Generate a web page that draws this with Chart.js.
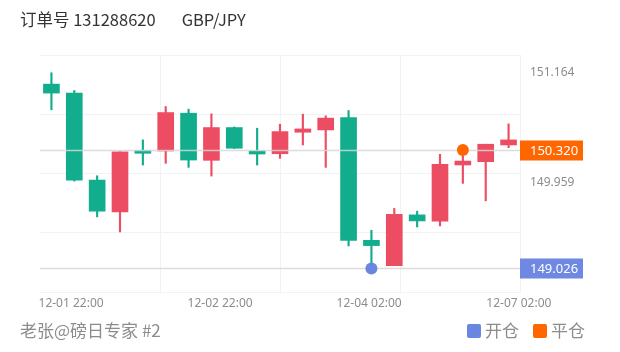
<!DOCTYPE html>
<html lang="zh">
<head>
<meta charset="UTF-8">
<title>GBP/JPY</title>
<script src="https://cdn.jsdelivr.net/npm/chart.js"></script>
<style>
    body { margin: 0; background: #fff; font-family: "Noto Sans CJK SC", "Noto Sans", sans-serif; }
    .wrap { position: relative; width: 620px; height: 352px; overflow: hidden; }
    canvas { position: absolute; left: 0; top: 0; }
    .title { position: absolute; left: 20px; top: 7px; font-size: 16.5px; color: #333; white-space: nowrap; }
    .title .pair { margin-left: 26px; }
    .footer { position: absolute; left: 20px; top: 317px; font-size: 17px; color: #8c8c8c; white-space: nowrap; }
    .legend { position: absolute; left: 467px; top: 317px; font-size: 17px; color: #8c8c8c; white-space: nowrap; }
    .legend span.sw { display: inline-block; width: 14px; height: 14px; border-radius: 2px; vertical-align: -1px; margin-right: 4px; }
    .legend .item2 { margin-left: 14px; }
</style>
</head>
<body>
<div class="wrap">
    <canvas id="chart" width="620" height="352"></canvas>
    <div class="title">订单号 131288620<span class="pair">GBP/JPY</span></div>
    <div class="footer">老张@磅日专家 #2</div>
    <div class="legend"><span class="sw" style="background:#6a86e0"></span>开仓<span class="item2"><span class="sw" style="background:#ff6600"></span>平仓</span></div>
</div>

<script>
    // candle data (red = up, green = down)
    const opens  = [151.040, 150.942, 149.991, 149.643, 150.312, 150.309, 150.722, 150.207, 150.565, 150.309, 150.279,
                    150.514, 150.539, 150.674, 149.333, 149.056, 149.611, 149.541, 150.156, 150.192, 150.375];
    const highs  = [151.164, 150.970, 150.038, 150.301, 150.430, 150.795, 150.766, 150.715, 150.572, 150.558, 150.602,
                    150.711, 150.693, 150.751, 149.443, 149.681, 149.651, 150.273, 150.265, 150.383, 150.605];
    const lows   = [150.759, 149.980, 149.589, 149.424, 150.156, 150.174, 150.130, 150.035, 150.336, 150.156, 150.229,
                    150.375, 150.130, 149.271, 149.040, 149.056, 149.479, 149.490, 149.955, 149.764, 150.345];
    const closes = [150.942, 149.991, 149.651, 150.301, 150.284, 150.729, 150.210, 150.565, 150.339, 150.276, 150.521,
                    150.550, 150.668, 149.333, 149.275, 149.618, 149.545, 150.163, 150.199, 150.383, 150.430];

    const xLabels = ['12-01 22:00', '12-02 22:00', '12-04 02:00', '12-07 02:00'];
    const xLabelPos = [0.86, 7.38, 13.9, 20.45];
    const yLabels = [151.164, 149.959];

    const openTrade = { idx: 14, price: 149.026 };   // 开仓
    const closeTrade = { idx: 18, price: 150.320 };  // 平仓

    const UP = '#ec4d63', DOWN = '#12ad8d';
    const Y_MIN = 148.768, Y_MAX = 151.358;

    const idx = opens.map((_, i) => i);
    const colors = idx.map(i => closes[i] >= opens[i] ? UP : DOWN);

    // price lines (over the candles, under the trade dots) + tag boxes on the right
    const tagPlugin = {
        id: 'tags',
        afterDatasetDraw(chart, args) {
            if (args.index !== 2) return;
            const { ctx, chartArea } = chart;
            const y = chart.scales.y;
            const tags = [
                { v: closeTrade.price, bg: '#ff6600' },
                { v: openTrade.price, bg: '#6f88e2' }
            ];
            ctx.save();
            tags.forEach(t => {
                const py = Math.round(y.getPixelForValue(t.v)) + 0.5;
                ctx.strokeStyle = 'rgba(215,215,215,0.85)';
                ctx.lineWidth = 1.5;
                ctx.beginPath();
                ctx.moveTo(chartArea.left, py);
                ctx.lineTo(chartArea.right, py);
                ctx.stroke();
                ctx.fillStyle = t.bg;
                ctx.fillRect(chartArea.right, py - 10, 63, 20);
                ctx.fillStyle = '#fff';
                ctx.font = '13px "Noto Sans", sans-serif';
                ctx.textAlign = 'left';
                ctx.textBaseline = 'middle';
                ctx.fillText(t.v.toFixed(3), chartArea.right + 10, py + 1);
            });
            ctx.restore();
        }
    };

    new Chart(document.getElementById('chart'), {
        type: 'bar',
        data: {
            datasets: [
                {
                    type: 'scatter',
                    data: [{ x: openTrade.idx, y: openTrade.price }],
                    backgroundColor: '#6a86e0', borderWidth: 0, pointRadius: 6, order: 0
                },
                {
                    type: 'scatter',
                    data: [{ x: closeTrade.idx, y: closeTrade.price }],
                    backgroundColor: '#ff6600', borderWidth: 0, pointRadius: 6, order: 0
                },
                {
                    data: idx.map(i => ({ x: i, y: [opens[i], closes[i]] })),
                    backgroundColor: colors, barThickness: 16, minBarLength: 3,
                    grouped: false, borderSkipped: false, order: 1
                },
                {
                    data: idx.map(i => ({ x: i, y: [lows[i], highs[i]] })),
                    backgroundColor: colors, barThickness: 1.5,
                    grouped: false, borderSkipped: false, order: 2
                }
            ]
        },
        options: {
            responsive: false,
            animation: false,
            devicePixelRatio: 1,
            layout: { padding: { left: 40, top: 55, right: 0, bottom: 40 } },
            plugins: { legend: { display: false }, tooltip: { enabled: false } },
            scales: {
                x: {
                    type: 'linear', position: 'bottom', min: -0.5, max: 20.5, offset: false,
                    grid: { display: false, drawTicks: false },
                    border: { display: false },
                    afterBuildTicks: s => { s.ticks = xLabelPos.map(v => ({ value: v })); },
                    afterFit: s => { s.height = 20; },
                    ticks: {
                        autoSkip: false, maxRotation: 0, padding: 4, color: '#8c8c8c',
                        font: { size: 12, family: '"Noto Sans", sans-serif' },
                        callback: (v, i) => xLabels[i]
                    }
                },
                xg: {
                    type: 'linear', position: 'bottom', min: -0.5, max: 20.5, offset: false,
                    grid: { color: '#f2f2f2', drawTicks: false, offset: false },
                    border: { display: false },
                    afterBuildTicks: s => { s.ticks = [4.75, 10, 15.25, 20.5].map(v => ({ value: v })); },
                    afterFit: s => { s.height = 0; },
                    ticks: { display: false }
                },
                y: {
                    type: 'linear', position: 'right', min: Y_MIN, max: Y_MAX,
                    grid: { color: '#f2f2f2', drawTicks: false },
                    border: { display: false },
                    afterBuildTicks: s => {
                        const step = (Y_MAX - Y_MIN) / 4;
                        s.ticks = [0, 1, 2, 3, 4].map(k => ({ value: Y_MIN + k * step }));
                    },
                    afterFit: s => { s.width = 0; },
                    ticks: { display: false }
                },
                y2: {
                    type: 'linear', position: 'right', min: Y_MIN, max: Y_MAX,
                    grid: { display: false, drawTicks: false },
                    border: { display: false },
                    afterBuildTicks: s => { s.ticks = yLabels.map(v => ({ value: v })); },
                    afterFit: s => { s.width = 100; },
                    ticks: {
                        padding: 10, color: '#8c8c8c',
                        font: { size: 12, family: '"Noto Sans", sans-serif' },
                        callback: v => v.toFixed(3)
                    }
                }
            }
        },
        plugins: [tagPlugin]
    });
</script>
</body>
</html>
